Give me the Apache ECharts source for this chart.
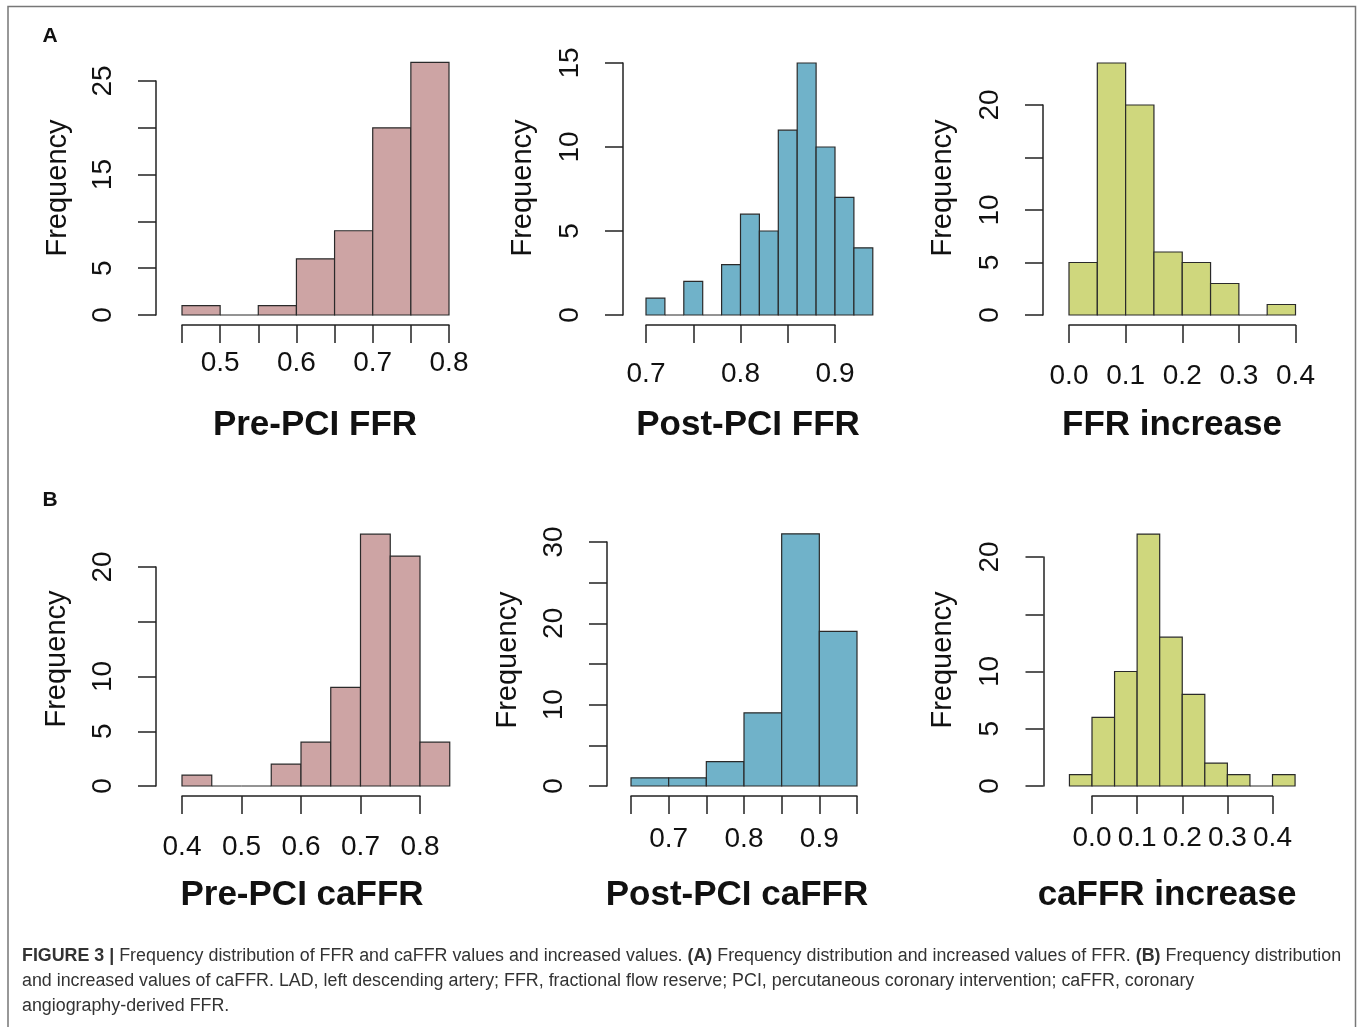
<!DOCTYPE html>
<html>
<head>
<meta charset="utf-8">
<script src="https://cdn.jsdelivr.net/npm/echarts@6/dist/echarts.min.js"></script>
<style>
  html, body { margin: 0; padding: 0; background: #ffffff; }
  #chart { width: 1358px; height: 1027px; }
</style>
</head>
<body>
<div id="chart"></div>
<script>
// ---------------- DATA ----------------
// Histogram bin breaks and counts
var preFFR_breaks  = [0.45, 0.50, 0.55, 0.60, 0.65, 0.70, 0.75, 0.80];
var preFFR_counts  = [1, 0, 1, 6, 9, 20, 27];

var postFFR_breaks = [0.70, 0.72, 0.74, 0.76, 0.78, 0.80, 0.82, 0.84, 0.86, 0.88, 0.90, 0.92, 0.94];
var postFFR_counts = [1, 0, 2, 0, 3, 6, 5, 11, 15, 10, 7, 4];

var incFFR_breaks  = [0.00, 0.05, 0.10, 0.15, 0.20, 0.25, 0.30, 0.35, 0.40];
var incFFR_counts  = [5, 24, 20, 6, 5, 3, 0, 1];

var preCa_breaks   = [0.40, 0.45, 0.50, 0.55, 0.60, 0.65, 0.70, 0.75, 0.80, 0.85];
var preCa_counts   = [1, 0, 0, 2, 4, 9, 23, 21, 4];

var postCa_breaks  = [0.65, 0.70, 0.75, 0.80, 0.85, 0.90, 0.95];
var postCa_counts  = [1, 1, 3, 9, 31, 19];

var incCa_breaks   = [-0.05, 0.00, 0.05, 0.10, 0.15, 0.20, 0.25, 0.30, 0.35, 0.40, 0.45];
var incCa_counts   = [1, 6, 10, 22, 13, 8, 2, 1, 0, 1];

// Tick labels that are printed on each axis
var preFFR_xLabels  = [0.5, 0.6, 0.7, 0.8];
var preFFR_yLabels  = [0, 5, 15, 25];
var postFFR_xLabels = [0.7, 0.8, 0.9];
var postFFR_yLabels = [0, 5, 10, 15];
var incFFR_xLabels  = [0.0, 0.1, 0.2, 0.3, 0.4];
var incFFR_yLabels  = [0, 5, 10, 20];
var preCa_xLabels   = [0.4, 0.5, 0.6, 0.7, 0.8];
var preCa_yLabels   = [0, 5, 10, 20];
var postCa_xLabels  = [0.7, 0.8, 0.9];
var postCa_yLabels  = [0, 10, 20, 30];
var incCa_xLabels   = [0.0, 0.1, 0.2, 0.3, 0.4];
var incCa_yLabels   = [0, 5, 10, 20];

// Axis titles
var titles = ['Pre-PCI FFR', 'Post-PCI FFR', 'FFR increase', 'Pre-PCI caFFR', 'Post-PCI caFFR', 'caFFR increase'];
var yTitle = 'Frequency';

// ---------------- STYLE / LAYOUT ----------------
var PINK = '#cda4a4', BLUE = '#70b2c9', GREEN = '#cfd77d';
var FONT = '"Liberation Sans", Arial, Helvetica, sans-serif';
var INK = '#111';

var panels = [
  { breaks: preFFR_breaks,  counts: preFFR_counts,  xl: preFFR_xLabels,  yl: preFFR_yLabels,  color: PINK,
    xmin: 0.45, xmax: 0.80, xint: 0.05, ymax: 25, yint: 5,
    left: 182, top: 81, width: 267, height: 234, yOff: 26, xMargin: 24,
    freq: [58, 188], title: [315, 425] },
  { breaks: postFFR_breaks, counts: postFFR_counts, xl: postFFR_xLabels, yl: postFFR_yLabels, color: BLUE,
    xmin: 0.70, xmax: 0.90, xint: 0.05, ymax: 15, yint: 5,
    left: 646, top: 63, width: 189, height: 252, yOff: 23, xMargin: 35,
    freq: [523, 188], title: [748, 425] },
  { breaks: incFFR_breaks,  counts: incFFR_counts,  xl: incFFR_xLabels,  yl: incFFR_yLabels,  color: GREEN,
    xmin: 0.0, xmax: 0.4, xint: 0.1, ymax: 20, yint: 5,
    left: 1069, top: 105, width: 226.5, height: 210, yOff: 26, xMargin: 37,
    freq: [943, 188], title: [1172, 425] },
  { breaks: preCa_breaks,   counts: preCa_counts,   xl: preCa_xLabels,   yl: preCa_yLabels,   color: PINK,
    xmin: 0.4, xmax: 0.8, xint: 0.1, ymax: 20, yint: 5,
    left: 182, top: 567, width: 238, height: 219, yOff: 26, xMargin: 37,
    freq: [57, 659], title: [302, 895] },
  { breaks: postCa_breaks,  counts: postCa_counts,  xl: postCa_xLabels,  yl: postCa_yLabels,  color: BLUE,
    xmin: 0.65, xmax: 0.95, xint: 0.05, ymax: 30, yint: 5,
    left: 631, top: 542, width: 226, height: 244, yOff: 24, xMargin: 29,
    freq: [508, 660], title: [737, 895] },
  { breaks: incCa_breaks,   counts: incCa_counts,   xl: incCa_xLabels,   yl: incCa_yLabels,   color: GREEN,
    xmin: 0.0, xmax: 0.4, xint: 0.1, ymax: 20, yint: 5,
    left: 1092, top: 557, width: 180.5, height: 229, yOff: 48.5, xMargin: 28,
    freq: [943, 660], title: [1167, 895] }
];

function inList(list, v) {
  for (var i = 0; i < list.length; i++) if (Math.abs(list[i] - v) < 1e-6) return true;
  return false;
}

var grids = [], xAxes = [], yAxes = [], series = [], graphics = [];
var axisLineStyle = { color: '#222', width: 1.5 };

panels.forEach(function (p, i) {
  grids.push({ left: p.left, top: p.top, width: p.width, height: p.height, containLabel: false });
  xAxes.push({
    type: 'value', gridIndex: i, min: p.xmin, max: p.xmax, interval: p.xint,
    offset: 10,
    axisLine: { show: true, onZero: false, lineStyle: axisLineStyle },
    axisTick: { show: true, length: 18, lineStyle: axisLineStyle },
    splitLine: { show: false },
    axisLabel: {
      margin: p.xMargin, fontSize: 28, fontFamily: FONT, color: INK,
      showMinLabel: true, showMaxLabel: true,
      formatter: (function (list) { return function (v) { return inList(list, v) ? v.toFixed(1) : ''; }; })(p.xl)
    }
  });
  yAxes.push({
    type: 'value', gridIndex: i, min: 0, max: p.ymax, interval: p.yint,
    offset: p.yOff,
    axisLine: { show: true, onZero: false, lineStyle: axisLineStyle },
    axisTick: { show: true, length: 18, lineStyle: axisLineStyle },
    splitLine: { show: false },
    axisLabel: {
      margin: 39, fontSize: 28, fontFamily: FONT, color: INK, rotate: 90,
      showMinLabel: true, showMaxLabel: true,
      formatter: (function (list) { return function (v) { return inList(list, v) ? String(v) : ''; }; })(p.yl)
    }
  });
  var data = [];
  for (var k = 0; k < p.counts.length; k++) data.push([p.breaks[k], p.breaks[k + 1], p.counts[k]]);
  series.push({
    type: 'custom', xAxisIndex: i, yAxisIndex: i, clip: false, silent: true,
    encode: { x: [0, 1], y: 2 },
    data: data,
    renderItem: (function (color) {
      return function (params, api) {
        var p0 = api.coord([api.value(0), 0]);
        var p1 = api.coord([api.value(1), api.value(2)]);
        return {
          type: 'rect',
          shape: { x: p0[0], y: p1[1], width: p1[0] - p0[0], height: p0[1] - p1[1] },
          style: { fill: color, stroke: '#2a2a2a', lineWidth: 1.2 }
        };
      };
    })(p.color)
  });
  graphics.push({
    type: 'text', x: p.freq[0], y: p.freq[1], rotation: Math.PI / 2,
    style: { text: yTitle, font: '29px ' + FONT, fill: INK, align: 'center', verticalAlign: 'middle' }
  });
  graphics.push({
    type: 'text', x: p.title[0], y: p.title[1],
    style: { text: titles[i], font: 'bold 35px ' + FONT, fill: INK, align: 'center', verticalAlign: 'middle' }
  });
});

// frame, panel letters, caption
graphics.push({ type: 'rect', shape: { x: 8, y: 6.5, width: 1347.5, height: 1040 },
  style: { fill: null, stroke: '#777', lineWidth: 1.5 }, silent: true, z: -1 });
graphics.push({ type: 'text', x: 50, y: 36, style: { text: 'A', font: 'bold 21px ' + FONT, fill: INK, align: 'center', verticalAlign: 'middle' } });
graphics.push({ type: 'text', x: 50, y: 500, style: { text: 'B', font: 'bold 21px ' + FONT, fill: INK, align: 'center', verticalAlign: 'middle' } });

var capRich = {
  n: { fontFamily: FONT, fontSize: 17.85, color: '#333' },
  b: { fontFamily: FONT, fontSize: 17.85, fontWeight: 'bold', color: '#222' }
};
var capLines = [
  '{b|FIGURE 3 |}{n| Frequency distribution of FFR and caFFR values and increased values. }{b|(A)}{n| Frequency distribution and increased values of FFR. }{b|(B)}{n| Frequency distribution}',
  '{n|and increased values of caFFR. LAD, left descending artery; FFR, fractional flow reserve; PCI, percutaneous coronary intervention; caFFR, coronary}',
  '{n|angiography-derived FFR.}'
];
var capY = [956, 981, 1006];
capLines.forEach(function (t, i) {
  graphics.push({ type: 'text', x: 22, y: capY[i],
    style: { text: t, rich: capRich, align: 'left', verticalAlign: 'middle', fill: '#333' } });
});

var chart = echarts.init(document.getElementById('chart'), null, { renderer: 'canvas' });
chart.setOption({
  backgroundColor: '#ffffff',
  animation: false,
  grid: grids,
  xAxis: xAxes,
  yAxis: yAxes,
  series: series,
  graphic: graphics
});
</script>
</body>
</html>
